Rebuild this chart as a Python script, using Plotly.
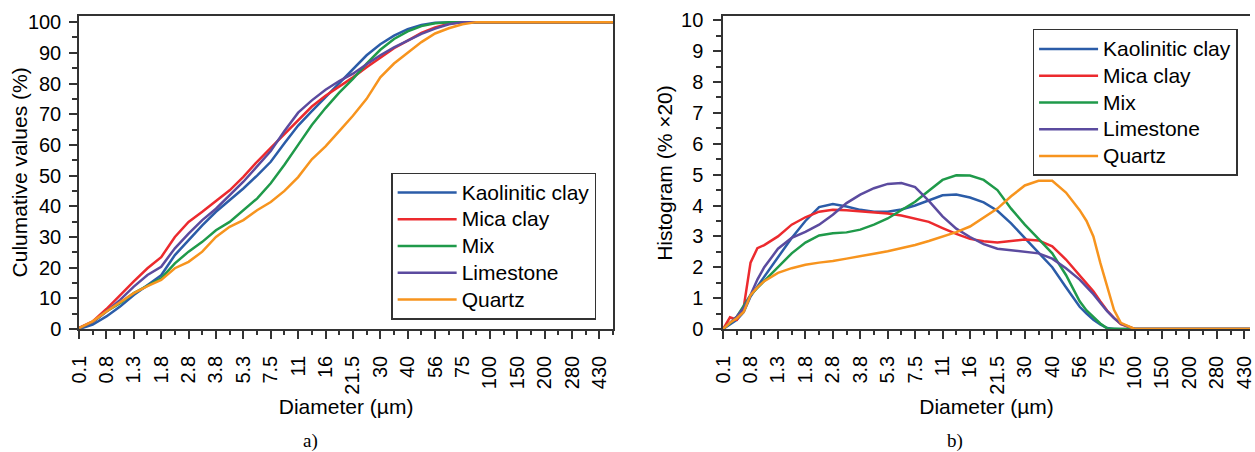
import plotly.graph_objects as go

# ---- category axis (particle-size classes, µm) ----
size_labels = ["0.1", "0.8", "1.3", "1.8", "2.8", "3.8", "5.3", "7.5", "11", "16",
               "21.5", "30", "40", "56", "75", "100", "150", "200", "280", "430"]

series_names = ["Kaolinitic clay", "Mica clay", "Mix", "Limestone", "Quartz"]
series_colors = ["#2b5ca8", "#ec2a2e", "#1f9a4a", "#5b4b9f", "#f7941e"]

# ---- a) cumulative values (%) at class positions ----
x_cum = [0, 0.5, 1, 1.5, 2, 2.5, 3, 3.5, 4, 4.5, 5, 5.5, 6, 6.5, 7, 7.5, 8, 8.5, 9, 9.5,
         10, 10.5, 11, 11.5, 12, 12.5, 13, 13.5, 14, 14.5, 15, 15.5, 16, 16.5, 17, 17.5,
         18, 18.5, 19, 19.5]
cum_kaolinitic = [0, 1.4, 4.1, 7.3, 11.1, 14.4, 17.5, 24.1, 29, 33.8, 38.2, 42, 45.8, 50,
                  54.5, 60.5, 66.3, 71, 75.5, 80.2, 84.8, 89.2, 92.8, 95.6, 97.7, 99.1,
                  99.8, 100, 100, 100, 100, 100, 100, 100, 100, 100, 100, 100, 100, 100]
cum_mica = [0.4, 2.5, 6.5, 11.1, 15.5, 19.8, 23.4, 30, 34.9, 38.2, 41.6, 45.2, 49.6, 54.5,
            59, 63.5, 68.3, 72.5, 76, 79, 82, 85.3, 88.5, 91.5, 94, 96.5, 98.3, 99.5,
            100, 100, 100, 100, 100, 100, 100, 100, 100, 100, 100, 100]
cum_mix = [0.2, 2.2, 5.7, 8.4, 11.7, 14.1, 16.5, 21.4, 25.2, 28.4, 32.2, 34.9, 38.7, 42.5,
           47.5, 53.5, 60, 66.5, 72, 77, 81.5, 86.5, 91, 94.5, 97, 98.7, 99.6, 100,
           100, 100, 100, 100, 100, 100, 100, 100, 100, 100, 100, 100]
cum_limestone = [0.2, 2.2, 5.7, 9.5, 13.8, 17.6, 20.3, 26.3, 31.1, 35.5, 39.2, 43.6, 48,
                 53, 58, 64.5, 70.5, 74.5, 78, 80.8, 83.2, 86.3, 89.2, 91.8, 94, 96.2,
                 97.9, 99.3, 100, 100, 100, 100, 100, 100, 100, 100, 100, 100, 100, 100]
cum_quartz = [0.3, 2.5, 5.7, 8.8, 11.7, 14, 16, 19.8, 21.9, 25.2, 30, 33.3, 35.5, 38.7,
              41.4, 45, 49.5, 55.3, 59.5, 64.5, 69.5, 75, 82, 86.5, 90, 93.5, 96.3, 98,
              99.3, 100, 100, 100, 100, 100, 100, 100, 100, 100, 100, 100]

# ---- b) histogram (% x20) at class positions ----
x_hist = [0, 0.25, 0.5, 0.75, 1, 1.25, 1.5, 2, 2.5, 3, 3.5, 4, 4.5, 5, 5.5, 6, 6.5, 7,
          7.5, 8, 8.5, 9, 9.5, 10, 10.5, 11, 11.5, 12, 12.5, 13, 13.25, 13.5, 13.75, 14,
          14.25, 14.5, 15, 15.5, 16, 17, 18, 19, 19.5]
hist_kaolinitic = [0, 0.15, 0.3, 0.55, 1.05, 1.38, 1.7, 2.35, 2.95, 3.5, 3.95, 4.05, 3.97,
                   3.86, 3.8, 3.8, 3.87, 4.0, 4.17, 4.33, 4.36, 4.26, 4.1, 3.83, 3.42,
                   2.95, 2.45, 2.0, 1.35, 0.72, 0.5, 0.3, 0.15, 0.03, 0, 0, 0, 0, 0, 0,
                   0, 0, 0]
hist_mica = [0, 0.38, 0.3, 0.7, 2.15, 2.62, 2.72, 3.0, 3.38, 3.62, 3.8, 3.86, 3.85, 3.82,
             3.77, 3.74, 3.68, 3.58, 3.47, 3.27, 3.08, 2.92, 2.84, 2.8, 2.86, 2.9, 2.87,
             2.68, 2.25, 1.72, 1.48, 1.22, 0.9, 0.6, 0.36, 0.16, 0, 0, 0, 0, 0, 0, 0]
hist_mix = [0, 0.18, 0.4, 0.75, 1.1, 1.33, 1.55, 2.0, 2.45, 2.8, 3.03, 3.1, 3.13, 3.22,
            3.38, 3.58, 3.85, 4.12, 4.48, 4.83, 4.98, 4.97, 4.83, 4.5, 3.9, 3.38, 2.92,
            2.45, 1.75, 0.9, 0.6, 0.38, 0.18, 0.02, 0, 0, 0, 0, 0, 0, 0, 0, 0]
hist_limestone = [0, 0.2, 0.4, 0.68, 1.1, 1.6, 2.0, 2.6, 2.95, 3.15, 3.38, 3.7, 4.08,
                  4.35, 4.56, 4.7, 4.73, 4.6, 4.15, 3.65, 3.25, 2.98, 2.75, 2.6, 2.55,
                  2.52, 2.45, 2.28, 1.97, 1.6, 1.38, 1.13, 0.85, 0.58, 0.35, 0.17, 0, 0,
                  0, 0, 0, 0, 0]
hist_quartz = [0, 0.2, 0.35, 0.55, 1.1, 1.35, 1.55, 1.82, 1.97, 2.08, 2.15, 2.2, 2.28,
               2.35, 2.44, 2.52, 2.62, 2.72, 2.85, 3.0, 3.14, 3.32, 3.6, 3.9, 4.3, 4.65,
               4.8, 4.8, 4.42, 3.85, 3.5, 3.0, 2.15, 1.35, 0.62, 0.2, 0, 0, 0, 0, 0, 0, 0]

cum_series = [cum_kaolinitic, cum_mica, cum_mix, cum_limestone, cum_quartz]
hist_series = [hist_kaolinitic, hist_mica, hist_mix, hist_limestone, hist_quartz]

FONT = "Liberation Sans, Arial, Helvetica, sans-serif"
SERIF = "Liberation Serif, Times New Roman, serif"
AX = "#333333"


def legend_label(name):
    return '<span style="font-size:21px">' + name + "</span>"


fig = go.Figure()
for name, color, ys in zip(series_names, series_colors, cum_series):
    fig.add_trace(go.Scatter(x=x_cum, y=ys, mode="lines", name=legend_label(name),
                             line=dict(color=color, width=2.5),
                             xaxis="x", yaxis="y", legend="legend"))
for name, color, ys in zip(series_names, series_colors, hist_series):
    fig.add_trace(go.Scatter(x=x_hist, y=ys, mode="lines", name=legend_label(name),
                             line=dict(color=color, width=2.5),
                             xaxis="x2", yaxis="y2", legend="legend2"))

W, H = 1255, 452
ml, mr, mt, mb = 79.3, 0, 16, 122.7
pw, ph = W - ml - mr, H - mt - mb


def px_x(px):
    return (px - ml) / pw


def px_y(py):
    return (H - mb - py) / ph


common_x = dict(
    tickmode="array", tickvals=list(range(len(size_labels))), ticktext=size_labels,
    tickangle=-90, ticks="outside", ticklen=8, tickwidth=1.5, tickcolor=AX,
    ticklabelstandoff=9, ticklabeloverflow="allow",
    showline=True, linecolor=AX, linewidth=1.5, mirror=True,
    showgrid=False, zeroline=False,
    tickfont=dict(family=FONT, size=20, color="black"),
    minor=dict(dtick=0.5, tick0=0, ticks="outside", ticklen=4, tickwidth=1.5, tickcolor=AX),
    title=dict(text="Diameter (µm)", font=dict(family=FONT, size=21, color="black"), standoff=1),
)
common_y = dict(
    ticks="outside", ticklen=8, tickwidth=1.5, tickcolor=AX,
    showline=True, linecolor=AX, linewidth=1.5,
    showgrid=False, zeroline=False, tick0=0,
    tickfont=dict(family=FONT, size=20, color="black"),
)

legend_common = dict(
    bgcolor="white", bordercolor=AX, borderwidth=1.5,
    font=dict(family=FONT, size=18.3, color="black"),
    xanchor="left", yanchor="top", itemwidth=59, tracegroupgap=0,
)

title_font = dict(family=FONT, size=21, color="black")

fig.update_layout(
    width=W, height=H, margin=dict(l=ml, r=mr, t=mt, b=mb),
    paper_bgcolor="white", plot_bgcolor="white",
    xaxis=dict(domain=[0, px_x(615.6)], range=[0, 19.5], anchor="y", **common_x),
    yaxis=dict(domain=[0, 1], range=[0, 102], dtick=10, anchor="x", mirror=True,
               ticklabelstandoff=4,
               minor=dict(dtick=5, ticks="outside", ticklen=5, tickwidth=1.5, tickcolor=AX),
               **common_y),
    xaxis2=dict(domain=[px_x(726), 1], range=[0, 19.21], anchor="y2", **common_x),
    yaxis2=dict(domain=[0, 1], range=[0, 10.14], dtick=1, anchor="x2", mirror=False,
                ticklabelstandoff=6,
                minor=dict(dtick=0.5, ticks="outside", ticklen=5, tickwidth=1.5, tickcolor=AX),
                **common_y),
    legend=dict(x=px_x(392.7), y=px_y(172.7), **legend_common),
    legend2=dict(x=px_x(1036.7), y=px_y(29), **legend_common),
    showlegend=True,
    annotations=[
        dict(text="Culumative values (%)", x=px_x(20), y=0.5, xref="paper", yref="paper",
             textangle=-90, xanchor="center", yanchor="middle", showarrow=False, font=title_font),
        dict(text="Histogram (% ×20)", x=px_x(667), y=0.5, xref="paper", yref="paper",
             textangle=-90, xanchor="center", yanchor="middle", showarrow=False, font=title_font),
        dict(text="a)", x=px_x(312), y=px_y(441), xref="paper", yref="paper",
             xanchor="center", yanchor="middle", showarrow=False,
             font=dict(family=SERIF, size=19, color="black")),
        dict(text="b)", x=px_x(959), y=px_y(441), xref="paper", yref="paper",
             xanchor="center", yanchor="middle", showarrow=False,
             font=dict(family=SERIF, size=19, color="black")),
    ],
)

fig.write_html("out.html")
